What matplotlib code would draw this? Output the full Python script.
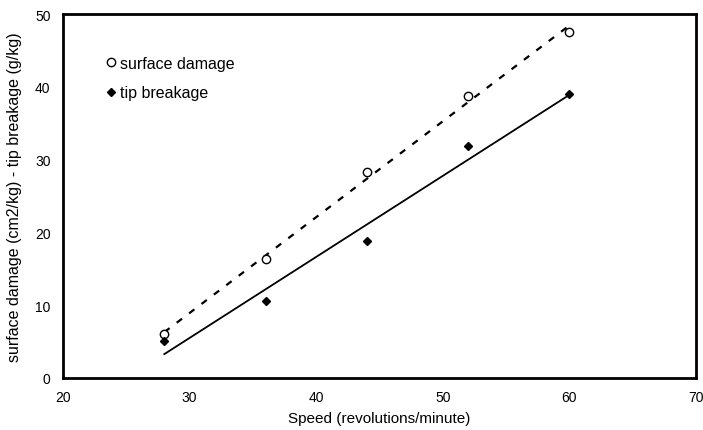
import numpy as np
import matplotlib
matplotlib.use("Agg")
import matplotlib.pyplot as plt

plt.rcParams['font.family'] = ['Liberation Sans', 'DejaVu Sans']

speed = [28, 36, 44, 52, 60]  # revolutions/minute
surface_damage = [6.0, 16.3, 28.3, 38.7, 47.5]  # cm2/kg
tip_breakage = [5.1, 10.6, 18.8, 31.9, 39.0]  # g/kg

x_ticks = [20, 30, 40, 50, 60, 70]
y_ticks = [0, 10, 20, 30, 40, 50]

fig = plt.figure(figsize=(7.03, 4.31), dpi=100)
ax = fig.add_axes([0.0896, 0.121, 0.9005, 0.844])

# linear trend lines through each series
xs = np.array([speed[0], speed[-1]])
p_s = np.polyfit(speed, surface_damage, 1)
p_t = np.polyfit(speed, tip_breakage, 1)
ax.plot(xs, np.polyval(p_s, xs), color='black', lw=1.6, ls=(0, (3, 4)))
ax.plot(xs, np.polyval(p_t, xs), color='black', lw=1.3)

ax.plot(speed, surface_damage, 'o', mfc='white', mec='black', ms=6, mew=1,
        ls='none', label='surface damage')
ax.plot(speed, tip_breakage, 'D', color='black', ms=4.5, ls='none',
        label='tip breakage')

ax.set_xlim(20, 70)
ax.set_ylim(0, 50)
ax.set_xticks(x_ticks)
ax.set_yticks(y_ticks)
ax.tick_params(length=0, labelsize=10, pad=9)
for s in ax.spines.values():
    s.set_linewidth(2)

ax.set_xlabel('Speed (revolutions/minute)', fontsize=11, labelpad=5)
ax.set_ylabel('surface damage (cm2/kg) - tip breakage (g/kg)', fontsize=11.5, labelpad=9)

ax.legend(loc='upper left', bbox_to_anchor=(0.045, 0.925), frameon=False,
          fontsize=11.5, handlelength=0.6, handletextpad=0.3, labelspacing=0.9)

fig.savefig('out.png', dpi=100)
